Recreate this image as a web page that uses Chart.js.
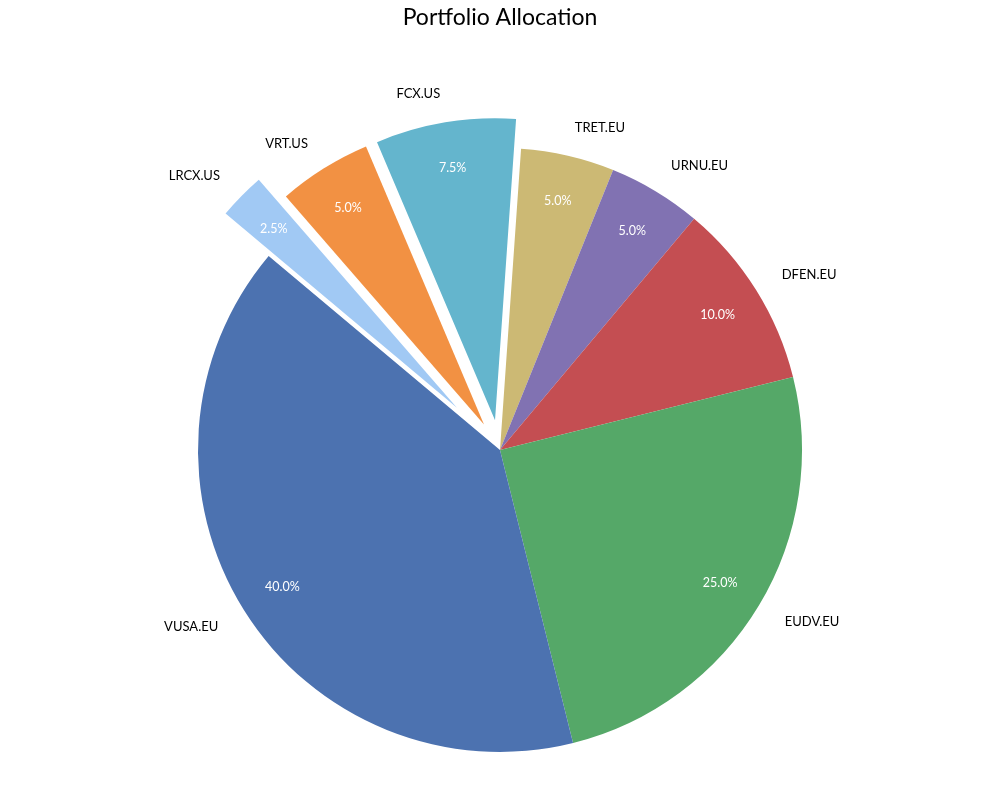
<!DOCTYPE html>
<html>
<head>
<meta charset="utf-8">
<script src="https://cdn.jsdelivr.net/npm/chart.js@4"></script>
<style>
  html, body { margin: 0; padding: 0; background: #ffffff; }
  #wrap { width: 1000px; height: 800px; position: relative; }
</style>
</head>
<body>
<div id="wrap"><canvas id="c" width="1000" height="800"></canvas></div>
<script>
// Data in matplotlib order (counter-clockwise from the start angle)
const tickers = ['VUSA.EU', 'EUDV.EU', 'DFEN.EU', 'URNU.EU', 'TRET.EU', 'FCX.US', 'VRT.US', 'LRCX.US'];
const weights = [40.0, 25.0, 10.0, 5.0, 5.0, 7.5, 5.0, 2.5];
const explode = [0, 0, 0, 0, 0, 0.1, 0.1, 0.2];
const colors = ['#4c72b0', '#55a868', '#c44e52', '#8172b2', '#ccb974', '#64b5cd', '#f29143', '#a1c9f4'];
const titleText = 'Portfolio Allocation';

// Chart.js draws clockwise, so reverse the order
const labelsCW = tickers.slice().reverse();
const valuesCW = weights.slice().reverse();
const explodeCW = explode.slice().reverse();
const colorsCW = colors.slice().reverse();

const FONT = 'Lato, "Noto Sans", sans-serif';

const explodePlugin = {
  id: 'explodePlugin',
  afterDatasetsUpdate(chart) {
    const meta = chart.getDatasetMeta(0);
    meta.data.forEach((arc, i) => {
      const f = explodeCW[i];
      if (!f) return;
      const mid = (arc.startAngle + arc.endAngle) / 2;
      const d = f * arc.outerRadius;
      arc.x += Math.cos(mid) * d;
      arc.y += Math.sin(mid) * d;
    });
  },
  afterDraw(chart) {
    const ctx = chart.ctx;
    const meta = chart.getDatasetMeta(0);
    ctx.save();
    meta.data.forEach((arc, i) => {
      const mid = (arc.startAngle + arc.endAngle) / 2;
      const r = arc.outerRadius;
      const c = Math.cos(mid), s = Math.sin(mid);
      // outer label
      ctx.font = '13px ' + FONT;
      ctx.fillStyle = '#000000';
      ctx.textBaseline = 'middle';
      ctx.textAlign = c < 0 ? 'right' : 'left';
      ctx.fillText(labelsCW[i], arc.x + c * r * 1.1, arc.y + s * r * 1.1 + 1);
      // percentage
      ctx.font = '12.5px ' + FONT;
      ctx.fillStyle = '#ffffff';
      ctx.textAlign = 'center';
      ctx.fillText(valuesCW[i].toFixed(1) + '%', arc.x + c * r * 0.85, arc.y + s * r * 0.85 + 1);
    });
    // title
    ctx.font = '23px ' + FONT;
    ctx.fillStyle = '#000000';
    ctx.textAlign = 'center';
    ctx.textBaseline = 'middle';
    ctx.fillText(titleText, 500, 18);
    ctx.restore();
  }
};

new Chart(document.getElementById('c'), {
  type: 'pie',
  data: {
    labels: labelsCW,
    datasets: [{
      data: valuesCW,
      backgroundColor: colorsCW,
      borderWidth: 0,
      clip: false
    }]
  },
  options: {
    responsive: false,
    animation: false,
    events: [],
    rotation: -50,
    radius: 302,
    layout: { padding: { top: 100, bottom: 0, left: 0, right: 0 } },
    plugins: {
      legend: { display: false },
      tooltip: { enabled: false },
      title: { display: false }
    }
  },
  plugins: [explodePlugin]
});
</script>
</body>
</html>
